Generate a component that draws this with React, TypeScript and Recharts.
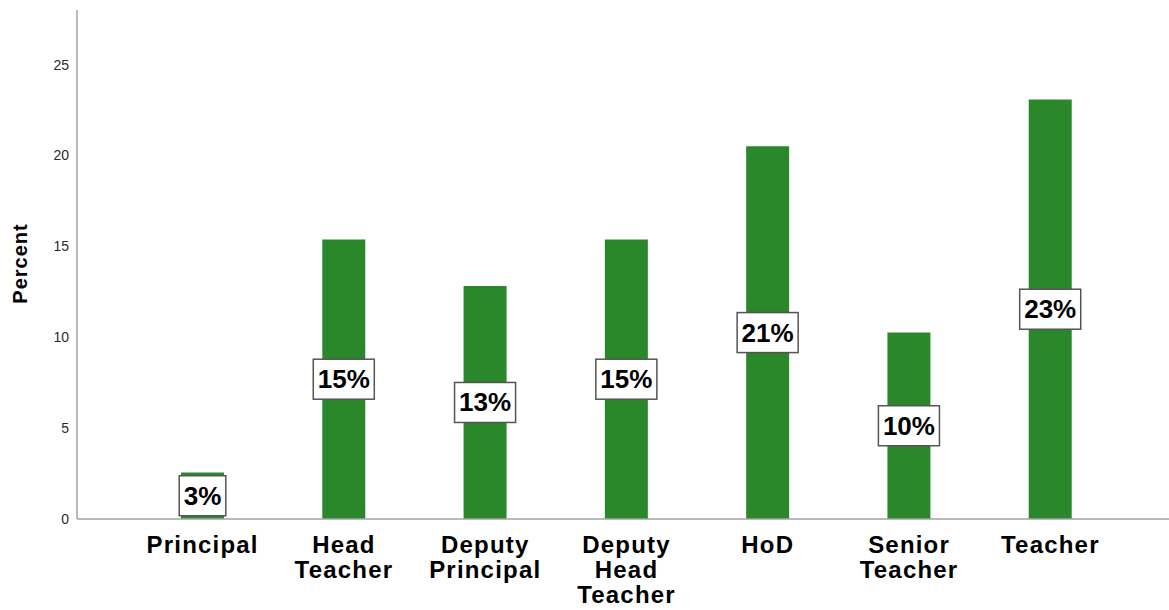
import { BarChart, Bar, XAxis, YAxis, LabelList } from 'recharts';

const categories = [
  'Principal',
  'Head Teacher',
  'Deputy Principal',
  'Deputy Head Teacher',
  'HoD',
  'Senior Teacher',
  'Teacher',
];
const percents = [2.56, 15.38, 12.82, 15.38, 20.51, 10.26, 23.08];
const yTicks = [0, 5, 10, 15, 20, 25];

const data = categories.map((name, i) => ({ name, value: percents[i] }));

const FONT = '"Liberation Sans", Arial, sans-serif';
const BAR_COLOR = '#2a872a';
const AXIS_COLOR = '#a3a3a3';

// rough Arial bold advance widths, used to size the label boxes
const charW = (c: string) => (c === '%' ? 0.889 : 0.556);

const ValueBox = (props: any) => {
  const { x, y, width, height, value } = props;
  const txt = `${Math.round(Number(value))}%`;
  const fs = 26;
  const tw = txt.split('').reduce((s, c) => s + charW(c) * fs, 0);
  const bw = tw + 9;
  const bh = 40;
  const cx = Number(x) + Number(width) / 2;
  const cy = Number(y) + Number(height) / 2;
  return (
    <g>
      <rect x={cx - bw / 2} y={cy - bh / 2} width={bw} height={bh} fill="#fff" stroke="#555" strokeWidth={1.5} />
      <text x={cx} y={cy} textAnchor="middle" dominantBaseline="central" fontFamily={FONT} fontWeight="bold" fontSize={fs} fill="#000">
        {txt}
      </text>
    </g>
  );
};

const CategoryTick = (props: any) => {
  const { x, y, payload } = props;
  const lines = String(payload.value).split(' ');
  return (
    <g transform={`translate(${x},${y})`}>
      {lines.map((l, i) => (
        <text key={i} x={0} y={34 + i * 25} textAnchor="middle" fontFamily={FONT} fontWeight="bold" fontSize={24} letterSpacing={1.2} fill="#000">
          {l}
        </text>
      ))}
    </g>
  );
};

export default function App() {
  return (
    <div style={{ position: 'absolute', left: 0, top: 0, width: 1169, height: 610, background: '#fff' }}>
      <BarChart width={1169} height={610} data={data} margin={{ top: 10, right: 0, bottom: 0, left: 0 }}>
        <XAxis
          dataKey="name"
          height={91}
          interval={0}
          tickLine={false}
          tickSize={0}
          tickMargin={0}
          padding={{ left: 55, right: 48 }}
          axisLine={{ stroke: AXIS_COLOR, strokeWidth: 1.5 }}
          tick={<CategoryTick />}
        />
        <YAxis
          width={77}
          domain={[0, 28]}
          ticks={yTicks}
          tickLine={false}
          tickSize={0}
          tickMargin={8}
          axisLine={{ stroke: AXIS_COLOR, strokeWidth: 1.5 }}
          tick={{ fontFamily: FONT, fontSize: 14, fill: '#2a2a2a' }}
          label={{
            content: ({ viewBox }: any) => {
              const cx = viewBox.x + 20;
              const cy = viewBox.y + viewBox.height / 2 - 1;
              return (
                <text
                  x={cx}
                  y={cy}
                  transform={`rotate(-90 ${cx} ${cy})`}
                  textAnchor="middle"
                  dominantBaseline="central"
                  fontFamily={FONT}
                  fontWeight="bold"
                  fontSize={20}
                  letterSpacing={1}
                  fill="#000"
                >
                  Percent
                </text>
              );
            },
          }}
        />
        <Bar dataKey="value" fill={BAR_COLOR} barSize={43} isAnimationActive={false}>
          <LabelList dataKey="value" content={<ValueBox />} />
        </Bar>
      </BarChart>
    </div>
  );
}
